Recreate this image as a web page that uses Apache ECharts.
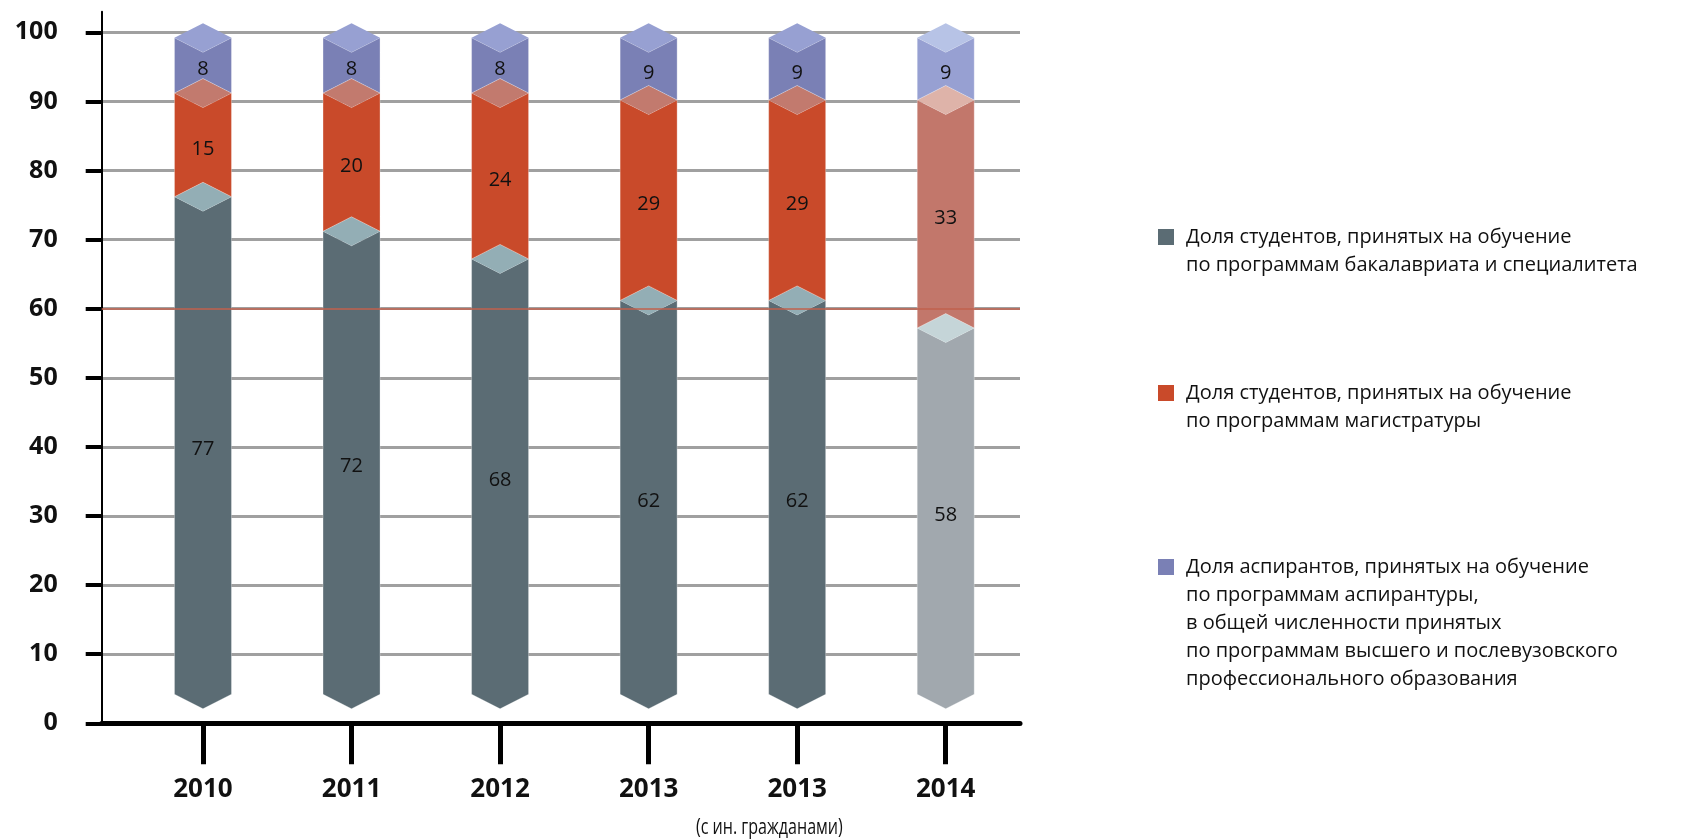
<!DOCTYPE html>
<html>
<head>
<meta charset="utf-8">
<script src="https://cdn.jsdelivr.net/npm/echarts@6.0.0/dist/echarts.min.js"></script>
<style>
html,body{margin:0;padding:0;background:#ffffff;}
#chart{width:1681px;height:839px;}
</style>
</head>
<body>
<div id="chart"></div>
<script>
// ---------- data ----------
const categories = ['2010', '2011', '2012', '2013', '2013', '2014'];
const bachelorShare = [77, 72, 68, 62, 62, 58];   // бакалавриат и специалитет
const masterShare   = [15, 20, 24, 29, 29, 33];   // магистратура
const postgradShare = [8, 8, 8, 9, 9, 9];         // аспирантура
const yMin = 0, yMax = 100, yInterval = 10;
const referenceLine = 60;
const seriesNames = [
  'Доля студентов, принятых на обучение\nпо программам бакалавриата и специалитета',
  'Доля студентов, принятых на обучение\nпо программам магистратуры',
  'Доля аспирантов, принятых на обучение\nпо программам аспирантуры,\nв общей численности принятых\nпо программам высшего и послевузовского\nпрофессионального образования'
];
const noteText = '(с ин. гражданами)';

// ---------- style ----------
const FONT = '"Open Sans", "Noto Sans", sans-serif';
const frontColors = ['#5b6c74', '#c94a2a', '#7a80b5'];
const topColors   = ['#93aeb5', '#c27a6e', '#97a0d2'];
const lightFront  = ['#a1a8ae', '#c2776b', '#97a0d2'];
const lightTop    = ['#c5d5d8', '#deb3a9', '#b7c3e6'];
const BAR_W = 57, H = 14.5, SHIFT = 5.5;
const LEG_LH = 28;

const allSeries = [bachelorShare, masterShare, postgradShare];

function stackedData(sIdx) {
  return categories.map((c, i) => {
    let lo = 0;
    for (let k = 0; k < sIdx; k++) lo += allSeries[k][i];
    const v = allSeries[sIdx][i];
    return [i, lo, lo + v, v];
  });
}

function makeRender(sIdx) {
  return function (params, api) {
    const i = api.value(0), lo = api.value(1), hi = api.value(2), v = api.value(3);
    const light = i === categories.length - 1;
    const pTop = api.coord([i, hi]);
    const pBot = api.coord([i, lo]);
    const xc = pTop[0], xl = xc - BAR_W / 2, xr = xc + BAR_W / 2;
    const yt = pTop[1] + SHIFT;
    let front, ybs;
    if (lo === 0) {
      ybs = pBot[1] - 2 * H;
      front = [[xl, yt], [xc, yt + H], [xr, yt], [xr, ybs], [xc, ybs + H], [xl, ybs]];
    } else {
      ybs = pBot[1] + SHIFT;
      front = [[xl, yt], [xc, yt + H], [xr, yt], [xr, ybs], [xc, ybs - H], [xl, ybs]];
    }
    const topFace = [[xc, yt - H], [xr, yt], [xc, yt + H], [xl, yt]];
    const fc = light ? lightFront[sIdx] : frontColors[sIdx];
    const tc = light ? lightTop[sIdx] : topColors[sIdx];
    return {
      type: 'group',
      children: [
        { type: 'polygon', shape: { points: front }, style: { fill: fc, stroke: 'rgba(255,255,255,0.3)', lineWidth: 1 } },
        { type: 'polygon', shape: { points: topFace }, style: { fill: tc } },
        { type: 'text', style: {
            text: String(v), x: xc, y: (yt + ybs) / 2 + 4,
            align: 'center', verticalAlign: 'middle',
            fill: '#111111', fontSize: 20, fontFamily: FONT
        } }
      ]
    };
  };
}

const gridL = 101.7, gridR = 1681 - 1020, gridT = 32.3, gridB = 839 - 723.3;

// legend icon: 16x16 square aligned with the first text line of a multi-line block
function legendIcon(lines) {
  const h = lines * LEG_LH;
  const sq = LEG_LH / 2 - 8;
  return 'path://M0,0h0.01v0.01h-0.01z M0,' + sq + 'h16v16h-16z M15.99,' + (h - 0.01) + 'h0.01v0.01h-0.01z';
}

const option = {
  animation: false,
  backgroundColor: '#ffffff',
  graphic: [
    { type: 'text', x: 696, y: 828, scaleX: 0.73, silent: true,
      style: { text: noteText, x: 0, y: 0, align: 'left', verticalAlign: 'middle',
        fontFamily: FONT, fontSize: 22, fill: '#111' } }
  ],
  grid: [
    { left: gridL, right: gridR, top: gridT, bottom: gridB, outerBoundsMode: 'none' },
    { left: 128.7, right: gridR, top: gridT, bottom: gridB, outerBoundsMode: 'none' },
    { left: gridL, right: gridR, top: 11.7, bottom: gridB, outerBoundsMode: 'none' }
  ],
  xAxis: [
    { gridIndex: 0, type: 'category', data: categories,
      axisLine: { show: true, lineStyle: { color: '#000', width: 5 } },
      axisTick: { show: false }, axisLabel: { show: false }, splitLine: { show: false } },
    { gridIndex: 1, type: 'category', data: categories,
      axisLine: { show: false },
      axisTick: { show: true, alignWithLabel: true, length: 41, lineStyle: { color: '#000', width: 5 } },
      axisLabel: { show: true, margin: 53, fontFamily: FONT, fontWeight: 'bold', fontSize: 26, color: '#111' },
      splitLine: { show: false } },
    { gridIndex: 2, type: 'category', data: categories, show: false }
  ],
  yAxis: [
    { gridIndex: 0, type: 'value', min: yMin, max: yMax, interval: yInterval,
      axisLine: { show: false },
      axisTick: { show: true, length: 16, lineStyle: { color: '#000', width: 4 } },
      axisLabel: { margin: 44, fontFamily: FONT, fontWeight: 'bold', fontSize: 25, color: '#111' },
      splitLine: { show: true, lineStyle: { color: '#a0a0a0', width: 3 } } },
    { gridIndex: 1, type: 'value', min: yMin, max: yMax, interval: yInterval, show: false },
    { gridIndex: 2, type: 'value', min: yMin, max: yMax, interval: yInterval,
      axisLine: { show: true, lineStyle: { color: '#000', width: 2 } },
      axisTick: { show: false }, axisLabel: { show: false }, splitLine: { show: false } }
  ],
  legend: [0, 1, 2].map((k) => {
    const lines = seriesNames[k].split('\n').length;
    const squareTops = [229, 385, 559];
    return {
      data: [{ name: seriesNames[k], icon: legendIcon(lines), itemStyle: { color: frontColors[k] } }],
      left: 1158, top: squareTops[k] - (LEG_LH / 2 - 8), orient: 'vertical', padding: 0,
      itemWidth: 16, itemHeight: lines * LEG_LH, selectedMode: false,
      textStyle: { fontFamily: FONT, fontSize: 20, color: '#111', lineHeight: LEG_LH, padding: [0, 0, 0, 7] }
    };
  }),
  series: [
    { type: 'line', name: 'ref', xAxisIndex: 0, yAxisIndex: 0, data: [], z: 1, silent: true,
      markLine: { silent: true, symbol: 'none', label: { show: false },
        lineStyle: { color: '#c0604d', width: 1.5, type: 'solid' },
        data: [{ yAxis: referenceLine }] } },
    ...[0, 1, 2].map(k => ({
      type: 'custom', name: seriesNames[k], xAxisIndex: 1, yAxisIndex: 1, z: 3,
      itemStyle: { color: frontColors[k] },
      renderItem: makeRender(k),
      encode: { x: 0, y: [1, 2] },
      data: stackedData(k)
    }))
  ]
};

const chart = echarts.init(document.getElementById('chart'), null, { renderer: 'canvas' });
chart.setOption(option);
</script>
</body>
</html>
